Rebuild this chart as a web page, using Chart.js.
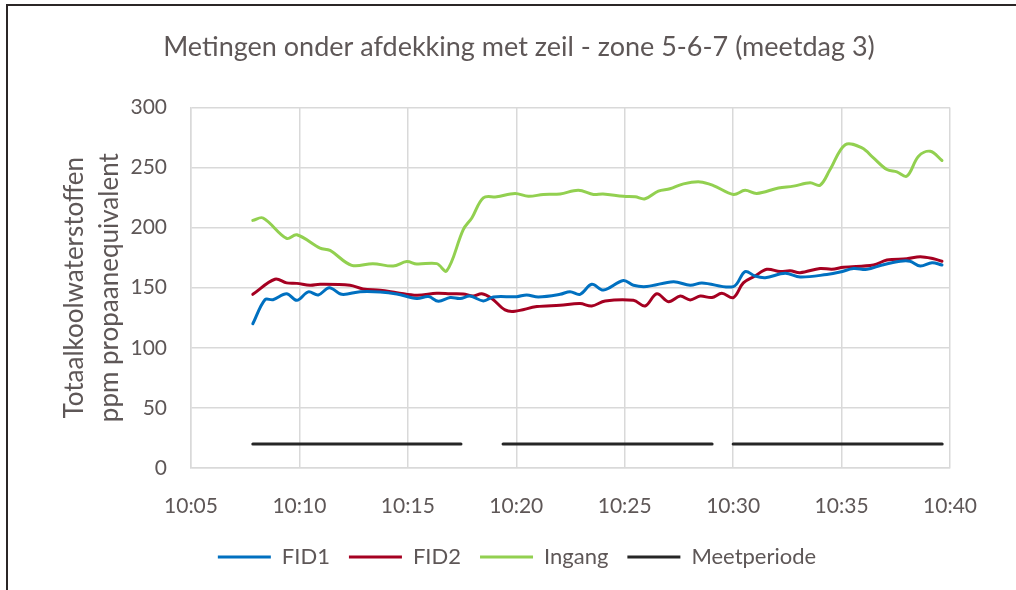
<!DOCTYPE html>
<html>
<head>
<meta charset="utf-8">
<title>Metingen onder afdekking met zeil</title>
<script src="https://cdn.jsdelivr.net/npm/chart.js@4"></script>
<style>
  body { margin: 0; background: #fff; }
  #wrap { width: 1016px; height: 590px; }
</style>
</head>
<body>
<div id="wrap"><canvas id="myChart" width="1016" height="590"></canvas></div>
<script>
// time = minutes after 10:00
var xTickLabels = ["10:05", "10:10", "10:15", "10:20", "10:25", "10:30", "10:35", "10:40"];

var fid1Time = [7.85, 8.41, 8.78, 9.41, 9.88, 10.41, 10.87, 11.38, 11.95, 12.8, 13.72, 14.49, 15.41, 15.95, 16.41, 16.95, 17.41, 17.87, 18.48, 18.94, 20.02, 20.48, 21.02, 22.02, 22.48, 22.94, 23.48, 24.02, 24.94, 25.4, 26.02, 27.25, 28.02, 28.56, 30.01, 30.55, 31.01, 31.48, 32.4, 33.09, 34.32, 34.93, 35.55, 36.17, 36.87, 37.7, 38.16, 38.63, 39.17, 39.63];
var fid1Values = [120, 140, 140, 145, 139.5, 146.5, 144, 150, 144.5, 146.7, 146.5, 144.8, 141, 142.6, 138.7, 141.8, 141, 143, 139, 142.3, 142.5, 144, 142.3, 144.5, 146.7, 144.5, 152.8, 148, 156, 152, 151, 155, 152, 154, 150.9, 163.4, 159.7, 158.3, 162, 158.9, 161, 163, 166, 165.3, 168.9, 172, 172, 168, 170.8, 168.9];

var fid2Time = [7.85, 8.87, 9.41, 9.88, 10.49, 10.95, 12.33, 12.93, 13.72, 14.49, 15.41, 16.33, 16.95, 17.55, 18.01, 18.41, 18.87, 19.48, 19.94, 20.95, 22.02, 22.94, 23.48, 24.1, 25.4, 25.94, 26.48, 27.02, 27.56, 28.02, 28.48, 29.02, 29.48, 30.01, 30.47, 31.01, 31.55, 32.17, 32.63, 33.09, 34.01, 34.55, 35.09, 36.47, 37.09, 38.01, 38.63, 39.24, 39.63];
var fid2Values = [144.5, 157, 154, 153.6, 152, 152.8, 152, 149, 147.8, 145.9, 143.7, 145.3, 145, 144.8, 143, 145, 141, 131.5, 130.4, 134.3, 135.4, 136.8, 134.8, 139, 139.5, 134.8, 145, 138.4, 143, 139.8, 143, 141.8, 145.3, 141.8, 154, 159.7, 165.3, 163.4, 164, 162.5, 166, 165.3, 167, 168.9, 173, 174.1, 175.8, 174.1, 172];

var ingangTime = [7.85, 8.32, 9.41, 9.88, 10.95, 11.41, 12.41, 13.39, 14.32, 14.95, 15.41, 16.33, 16.79, 17.56, 17.95, 18.48, 19.1, 19.94, 20.56, 21.25, 22.02, 22.86, 23.56, 24.0, 24.94, 25.48, 25.94, 26.55, 27.09, 27.71, 28.48, 29.09, 30.01, 30.55, 31.09, 32.09, 32.78, 33.55, 34.01, 34.47, 35.17, 35.94, 36.47, 37.09, 37.55, 38.01, 38.55, 39.09, 39.63];
var ingangValues = [206, 208, 191, 194, 183, 181, 168.6, 170, 168, 171.7, 169.7, 170, 164, 198.5, 208, 224.8, 225.6, 228.4, 226, 227.6, 228, 231, 227.6, 228, 226, 225.6, 224, 230.4, 232.3, 236.4, 238, 235, 227.6, 231, 228.4, 233, 234.5, 237.3, 235.3, 248.3, 269, 266.3, 258, 248.3, 246.4, 242.8, 259.4, 263.5, 255.8];

// three measuring periods, null breaks the line
var meetTime = [7.85, 17.45, 17.46, 19.39, 29.03, 29.04, 30.0, 39.64];
var meetValues = [20, 20, null, 20, 20, null, 20, 20];

var textColor = "#5e5757";
var fontName = "Lato";

function points(t, v) {
  return t.map(function (x, i) { return { x: x, y: v[i] }; });
}

var framePlugin = {
  id: "frame",
  // the original chart box is wider than the window, so title and legend sit right of the plot centre
  afterLayout: function (chart) {
    chart.titleBlock.left += 44;
    chart.titleBlock.right += 44;
    chart.legend.left += 42;
    chart.legend.right += 42;
  },
  beforeDraw: function (chart) {
    var ctx = chart.ctx;
    ctx.save();
    ctx.fillStyle = "#fff";
    ctx.fillRect(0, 0, chart.width, chart.height);
    ctx.strokeStyle = "#2b2626";
    ctx.lineWidth = 2;
    ctx.beginPath();
    ctx.moveTo(7, chart.height);
    ctx.lineTo(7, 5);
    ctx.lineTo(chart.width, 5);
    ctx.stroke();
    ctx.restore();
  }
};

new Chart("myChart", {
  type: "line",
  data: {
    datasets: [
      { label: "FID1", data: points(fid1Time, fid1Values), borderColor: "#0070c0", backgroundColor: "#0070c0", borderWidth: 3 },
      { label: "FID2", data: points(fid2Time, fid2Values), borderColor: "#a50021", backgroundColor: "#a50021", borderWidth: 3 },
      { label: "Ingang", data: points(ingangTime, ingangValues), borderColor: "#92d050", backgroundColor: "#92d050", borderWidth: 3 },
      { label: "Meetperiode", data: points(meetTime, meetValues), borderColor: "#262626", backgroundColor: "#262626", borderWidth: 3, tension: 0 }
    ]
  },
  options: {
    responsive: false,
    animation: false,
    devicePixelRatio: 1,
    elements: {
      point: { radius: 0 },
      line: { tension: 0.35, borderCapStyle: "round" }
    },
    layout: { padding: { left: 0, right: 66, top: 0, bottom: 12 } },
    scales: {
      x: {
        type: "linear",
        min: 5,
        max: 40,
        ticks: {
          stepSize: 5,
          padding: 26,
          color: textColor,
          font: { family: fontName, size: 21 },
          callback: function (v, i) { return xTickLabels[i]; }
        },
        grid: { color: "#d9d9d9", lineWidth: 1.5, drawTicks: false },
        border: { color: "#d9d9d9", width: 1.5 },
        afterFit: function (s) { s.height = 59; }
      },
      y: {
        min: 0,
        max: 300,
        ticks: {
          stepSize: 50,
          padding: 24,
          color: textColor,
          font: { family: fontName, size: 21 }
        },
        grid: { color: "#d9d9d9", lineWidth: 1.5, drawTicks: false },
        border: { color: "#d9d9d9", width: 1.5 },
        title: {
          display: true,
          text: ["Totaalkoolwaterstoffen", "ppm propaanequivalent"],
          color: textColor,
          font: { family: fontName, size: 26, lineHeight: 1.35 },
          padding: { top: 57, bottom: 0 }
        },
        afterFit: function (s) { s.width = 191; }
      }
    },
    plugins: {
      title: {
        display: true,
        text: "Metingen onder afdekking met zeil - zone 5-6-7 (meetdag 3)",
        color: textColor,
        font: { family: fontName, size: 27, weight: "normal", lineHeight: 1.2 },
        padding: { top: 31, bottom: 44 }
      },
      legend: {
        position: "bottom",
        labels: {
          usePointStyle: true,
          pointStyle: "line",
          pointStyleWidth: 53,
          boxHeight: 3,
          padding: 19,
          color: textColor,
          font: { family: fontName, size: 22 }
        }
      },
      tooltip: { enabled: false }
    }
  },
  plugins: [framePlugin]
});
</script>
</body>
</html>
